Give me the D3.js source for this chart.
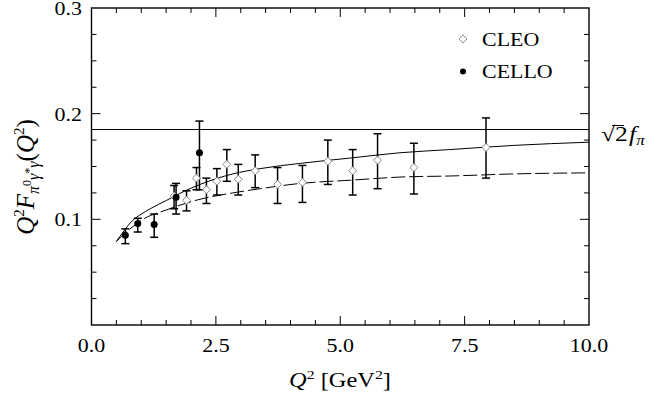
<!DOCTYPE html>
<html>
<head>
<meta charset="utf-8">
<script src="https://cdn.jsdelivr.net/npm/d3@7"></script>
<style>
  body { margin: 0; background: #fff; }
  text { font-family: "Liberation Serif", "Times New Roman", serif; fill: #000; }
</style>
</head>
<body>
<svg id="chart" width="654" height="396"></svg>
<script>
// CLEO points (open diamonds)
const cleoQ2 = [1.66, 1.91, 2.11, 2.31, 2.52, 2.72, 2.95, 3.29, 3.74, 4.24, 4.75, 5.25, 5.75, 6.48, 7.93];
const cleoF  = [0.122, 0.118, 0.139, 0.128, 0.136, 0.152, 0.138, 0.146, 0.133, 0.135, 0.155, 0.146, 0.156, 0.149, 0.168];
const cleoLo = [0.110, 0.108, 0.128, 0.115, 0.123, 0.136, 0.123, 0.130, 0.115, 0.116, 0.133, 0.123, 0.129, 0.124, 0.139];
const cleoHi = [0.132, 0.127, 0.149, 0.139, 0.148, 0.166, 0.152, 0.161, 0.149, 0.151, 0.175, 0.166, 0.181, 0.172, 0.196];

// CELLO points (filled circles)
const celloQ2 = [0.68, 0.93, 1.26, 1.70, 2.17];
const celloF  = [0.085, 0.096, 0.095, 0.121, 0.163];
const celloLo = [0.077, 0.088, 0.083, 0.105, 0.128];
const celloHi = [0.091, 0.101, 0.105, 0.134, 0.193];

// theory curves
const solidQ2 = [0.5, 0.65, 0.83, 1.0, 1.18, 1.51, 1.84, 2.18, 2.84, 3.39, 4.2, 5.2, 6.2, 7.2, 8.5, 10];
const solidF  = [0.079, 0.089, 0.099, 0.105, 0.110, 0.118, 0.126, 0.133, 0.143, 0.148, 0.153, 0.158, 0.163, 0.166, 0.170, 0.173];
const dashQ2  = [0.5, 0.65, 0.83, 1.0, 1.51, 2.18, 2.84, 3.39, 4.2, 5.2, 6.2, 7.2, 8.5, 10];
const dashF   = [0.079, 0.086, 0.093, 0.099, 0.109, 0.119, 0.125, 0.129, 0.134, 0.137, 0.140, 0.141, 0.143, 0.144];

const sqrt2fpi = 0.185;

const xTicks = [0, 2.5, 5, 7.5, 10];
const yTicks = [0.1, 0.2, 0.3];

const svg = d3.select("#chart");
const x = d3.scaleLinear().domain([0, 10]).range([91.5, 589]);
const y = d3.scaleLinear().domain([0, 0.3]).range([325, 8]);

const SX = 1.22; // glyphs in the reference are a bit wider than tall

function label(g, px, py, str, anchor, size) {
    return g.append("text")
        .attr("transform", `translate(${px},${py}) scale(${SX},1)`)
        .attr("text-anchor", anchor)
        .style("font-size", size + "px")
        .text(str);
}

const plot = svg.append("g");

// frame
plot.append("rect")
    .attr("x", x(0)).attr("y", y(0.3))
    .attr("width", x(10) - x(0)).attr("height", y(0) - y(0.3))
    .attr("fill", "none").attr("stroke", "#000").attr("stroke-width", 1.4);

// ticks (inward, all four sides)
const xMinor = d3.range(0.5, 10, 0.5);
xMinor.forEach(v => {
    const major = Math.abs(v / 2.5 - Math.round(v / 2.5)) < 1e-6;
    const len = major ? 9 : 5;
    plot.append("line").attr("x1", x(v)).attr("x2", x(v)).attr("y1", y(0)).attr("y2", y(0) - len)
        .attr("stroke", "#000").attr("stroke-width", 1);
    plot.append("line").attr("x1", x(v)).attr("x2", x(v)).attr("y1", y(0.3)).attr("y2", y(0.3) + len)
        .attr("stroke", "#000").attr("stroke-width", 1);
});
const yMinor = d3.range(0.025, 0.3, 0.025);
yMinor.forEach(v => {
    const major = Math.abs(v / 0.1 - Math.round(v / 0.1)) < 1e-6;
    const len = major ? 9 : 5;
    plot.append("line").attr("x1", x(0)).attr("x2", x(0) + len).attr("y1", y(v)).attr("y2", y(v))
        .attr("stroke", "#000").attr("stroke-width", 1);
    plot.append("line").attr("x1", x(10)).attr("x2", x(10) - len).attr("y1", y(v)).attr("y2", y(v))
        .attr("stroke", "#000").attr("stroke-width", 1);
});

// tick labels
xTicks.forEach(v => label(svg, x(v), 352, v.toFixed(1), "middle", 18));
yTicks.forEach(v => label(svg, 82, y(v) + 7, v.toFixed(1), "end", 18));

// horizontal sqrt(2) f_pi line
plot.append("line")
    .attr("x1", x(0)).attr("x2", x(10))
    .attr("y1", y(sqrt2fpi)).attr("y2", y(sqrt2fpi))
    .attr("stroke", "#000").attr("stroke-width", 1);

// curves
const lineGen = d3.line().x(d => x(d[0])).y(d => y(d[1])).curve(d3.curveMonotoneX);
plot.append("path")
    .datum(d3.zip(solidQ2, solidF))
    .attr("d", lineGen)
    .attr("fill", "none").attr("stroke", "#000").attr("stroke-width", 1);
plot.append("path")
    .datum(d3.zip(dashQ2, dashF))
    .attr("d", lineGen)
    .attr("fill", "none").attr("stroke", "#000").attr("stroke-width", 1)
    .attr("stroke-dasharray", "14,4");

// error bars
function errorBars(q2, lo, hi) {
    const g = plot.append("g").attr("stroke", "#000").attr("stroke-width", 1.5);
    q2.forEach((q, i) => {
        g.append("line").attr("x1", x(q)).attr("x2", x(q)).attr("y1", y(lo[i])).attr("y2", y(hi[i]));
        g.append("line").attr("x1", x(q) - 4).attr("x2", x(q) + 4).attr("y1", y(lo[i])).attr("y2", y(lo[i]));
        g.append("line").attr("x1", x(q) - 4).attr("x2", x(q) + 4).attr("y1", y(hi[i])).attr("y2", y(hi[i]));
    });
}
errorBars(cleoQ2, cleoLo, cleoHi);
errorBars(celloQ2, celloLo, celloHi);

const diamond = d3.symbol().type(d3.symbolDiamond2).size(40);

plot.selectAll("path.cleo").data(d3.zip(cleoQ2, cleoF)).join("path")
    .attr("class", "cleo")
    .attr("transform", d => `translate(${x(d[0])},${y(d[1])})`)
    .attr("d", diamond)
    .attr("fill", "#fff").attr("stroke", "#888").attr("stroke-width", 1);

plot.selectAll("circle.cello").data(d3.zip(celloQ2, celloF)).join("circle")
    .attr("class", "cello")
    .attr("cx", d => x(d[0])).attr("cy", d => y(d[1]))
    .attr("r", 3.5).attr("fill", "#000");

// legend
svg.append("path").attr("transform", "translate(463,39)").attr("d", diamond)
    .attr("fill", "#fff").attr("stroke", "#888").attr("stroke-width", 1);
label(svg, 482, 46, "CLEO", "start", 18);
svg.append("circle").attr("cx", 463).attr("cy", 71.5).attr("r", 3).attr("fill", "#000");
label(svg, 482, 78, "CELLO", "start", 18);

// sqrt(2) f_pi annotation
const ann = svg.append("text")
    .attr("transform", `translate(601,141) scale(${SX},1)`)
    .style("font-size", "21px");
ann.append("tspan").text("\u221A2");
ann.append("tspan").style("font-style", "italic").attr("dx", 1).text("f");
ann.append("tspan").style("font-size", "14px").style("font-style", "italic").attr("dy", 4).text("\u03C0");
svg.append("line").attr("x1", 612).attr("x2", 624).attr("y1", 125.5).attr("y2", 125.5)
    .attr("stroke", "#000").attr("stroke-width", 1);

// x axis title
const xt = svg.append("text")
    .attr("transform", `translate(340,387) scale(${SX},1)`)
    .attr("text-anchor", "middle")
    .style("font-size", "20px");
xt.append("tspan").style("font-style", "italic").text("Q");
xt.append("tspan").style("font-size", "13px").attr("dy", -8).text("2");
xt.append("tspan").attr("dy", 8).text(" [GeV");
xt.append("tspan").style("font-size", "13px").attr("dy", -8).text("2");
xt.append("tspan").attr("dy", 8).text("]");

// y axis title
const yt = svg.append("text")
    .attr("transform", "translate(34,177) rotate(-90)")
    .attr("text-anchor", "middle")
    .style("font-size", "25px");
yt.append("tspan").style("font-style", "italic").text("Q");
yt.append("tspan").style("font-size", "15px").attr("dy", -10).text("2");
yt.append("tspan").style("font-style", "italic").attr("dy", 10).text("F");
yt.append("tspan").style("font-size", "16px").style("font-style", "italic").attr("dy", 5).text("\u03C0");
yt.append("tspan").style("font-size", "12px").attr("dy", -8).text("0");
yt.append("tspan").style("font-size", "16px").style("font-style", "italic").attr("dy", 8).text("\u03B3");
yt.append("tspan").style("font-size", "12px").attr("dy", -6).text("*");
yt.append("tspan").style("font-size", "16px").style("font-style", "italic").attr("dy", 6).text("\u03B3");
yt.append("tspan").attr("dy", -5).text("(");
yt.append("tspan").style("font-style", "italic").text("Q");
yt.append("tspan").style("font-size", "15px").attr("dy", -10).text("2");
yt.append("tspan").attr("dy", 10).text(")");
</script>
</body>
</html>
